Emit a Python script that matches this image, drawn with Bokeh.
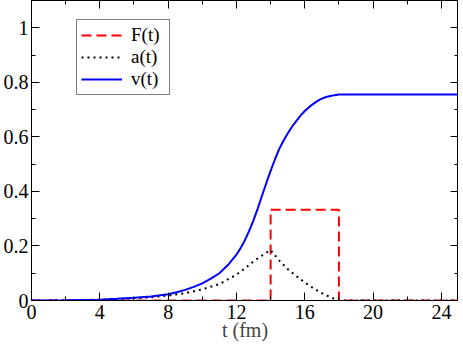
from bokeh.plotting import figure
from bokeh.models import Range1d, LinearAxis, SingleIntervalTicker, Legend, LegendItem, CustomJSTickFormatter
from bokeh.embed import file_html
from bokeh.resources import INLINE

# Data
t_F = [0, 14, 14, 18, 18, 25]
F_vals = [0, 0, 0.333, 0.333, 0, 0]

t_a = [0, 2, 4, 6, 7, 8, 9, 10, 11, 12, 12.5, 13, 13.5, 14,
       14.5, 15, 15.5, 16, 16.5, 17, 17.5, 18, 25]
a_vals = [0, 0.001, 0.003, 0.008, 0.012, 0.018, 0.027, 0.041, 0.06, 0.095, 0.118,
          0.144, 0.165, 0.185, 0.147, 0.115, 0.09, 0.066, 0.045, 0.027, 0.012, 0, 0]

t_v = [0, 2, 4, 5, 6, 7, 8, 8.5, 9, 9.5, 10, 10.5, 11, 11.5, 12, 12.25, 12.5, 12.75,
       13, 13.25, 13.5, 13.75, 14, 14.25, 14.5, 14.75, 15, 15.25, 15.5, 15.75, 16,
       16.25, 16.5, 16.75, 17, 17.25, 17.5, 17.75, 18, 25]
v_vals = [0, 0.001, 0.003, 0.006, 0.01, 0.015, 0.023, 0.03, 0.039, 0.05, 0.063,
          0.08, 0.1, 0.13, 0.168, 0.193, 0.222, 0.256, 0.295, 0.338, 0.385, 0.431,
          0.475, 0.517, 0.555, 0.586, 0.612, 0.637, 0.658, 0.678, 0.695, 0.709,
          0.721, 0.732, 0.74, 0.746, 0.75, 0.753, 0.755, 0.755]

x_ticks_major = 4
y_ticks_major = 0.2
FONT = "'Liberation Serif', 'Times New Roman', serif"

p = figure(width=458, height=343, output_backend="svg", toolbar_location=None,
           x_range=Range1d(0, 25), y_range=Range1d(0, 1.1),
           min_border_left=28, min_border_right=0, min_border_top=0, min_border_bottom=0)
p.xgrid.visible = False
p.ygrid.visible = False
p.outline_line_color = "black"
p.background_fill_color = "white"
p.border_fill_color = "white"

def style_axis(ax, show_labels=True):
    ax.axis_line_color = "black"
    ax.major_tick_in = 8
    ax.major_tick_out = 0
    ax.minor_tick_in = 4
    ax.minor_tick_out = 0
    ax.major_tick_line_color = "black"
    ax.minor_tick_line_color = "black"
    ax.major_label_text_font = FONT
    if show_labels:
        ax.major_label_text_color = "black"
        ax.major_label_text_font_size = "20px"
        ax.major_label_standoff = 4
    else:
        ax.formatter = CustomJSTickFormatter(code="return '';")
        ax.major_label_text_color = None
        ax.major_label_text_font_size = "1px"
        ax.major_label_standoff = 0

p.xaxis.ticker = SingleIntervalTicker(interval=x_ticks_major, num_minor_ticks=2)
p.yaxis.ticker = SingleIntervalTicker(interval=y_ticks_major, num_minor_ticks=2)
style_axis(p.xaxis[0])
style_axis(p.yaxis[0])
p.yaxis[0].major_label_standoff = 3
p.xaxis.axis_label = "t (fm)"
p.xaxis.axis_label_text_font = FONT
p.xaxis.axis_label_text_font_size = "20px"
p.xaxis.axis_label_text_font_style = "normal"
p.xaxis.axis_label_standoff = -3

top = LinearAxis(ticker=SingleIntervalTicker(interval=x_ticks_major, num_minor_ticks=2))
right = LinearAxis(ticker=SingleIntervalTicker(interval=y_ticks_major, num_minor_ticks=2))
style_axis(top, False)
style_axis(right, False)
p.add_layout(top, "above")
p.add_layout(right, "right")

rF = p.line(t_F, F_vals, line_color="#ff0000", line_width=2, line_dash="10 5")
ra = p.line(t_a, a_vals, line_color="black", line_width=2, line_dash="2 4")
rv = p.line(t_v, v_vals, line_color="#0000ff", line_width=2)

legend = Legend(items=[LegendItem(label="F(t)", renderers=[rF]),
                       LegendItem(label="a(t)", renderers=[ra]),
                       LegendItem(label="v(t)", renderers=[rv])],
                location=(45, 205))
legend.label_text_font = FONT
legend.label_text_font_size = "19px"
legend.label_text_color = "black"
legend.border_line_color = "black"
legend.border_line_width = 1
legend.padding = 4
legend.spacing = 0
legend.glyph_width = 41
legend.glyph_height = 18
legend.label_height = 18
legend.label_width = 34
legend.label_standoff = 9
legend.margin = 0
legend.background_fill_alpha = 1
p.add_layout(legend, "center")

open("out.html", "w").write(file_html(p, INLINE))
